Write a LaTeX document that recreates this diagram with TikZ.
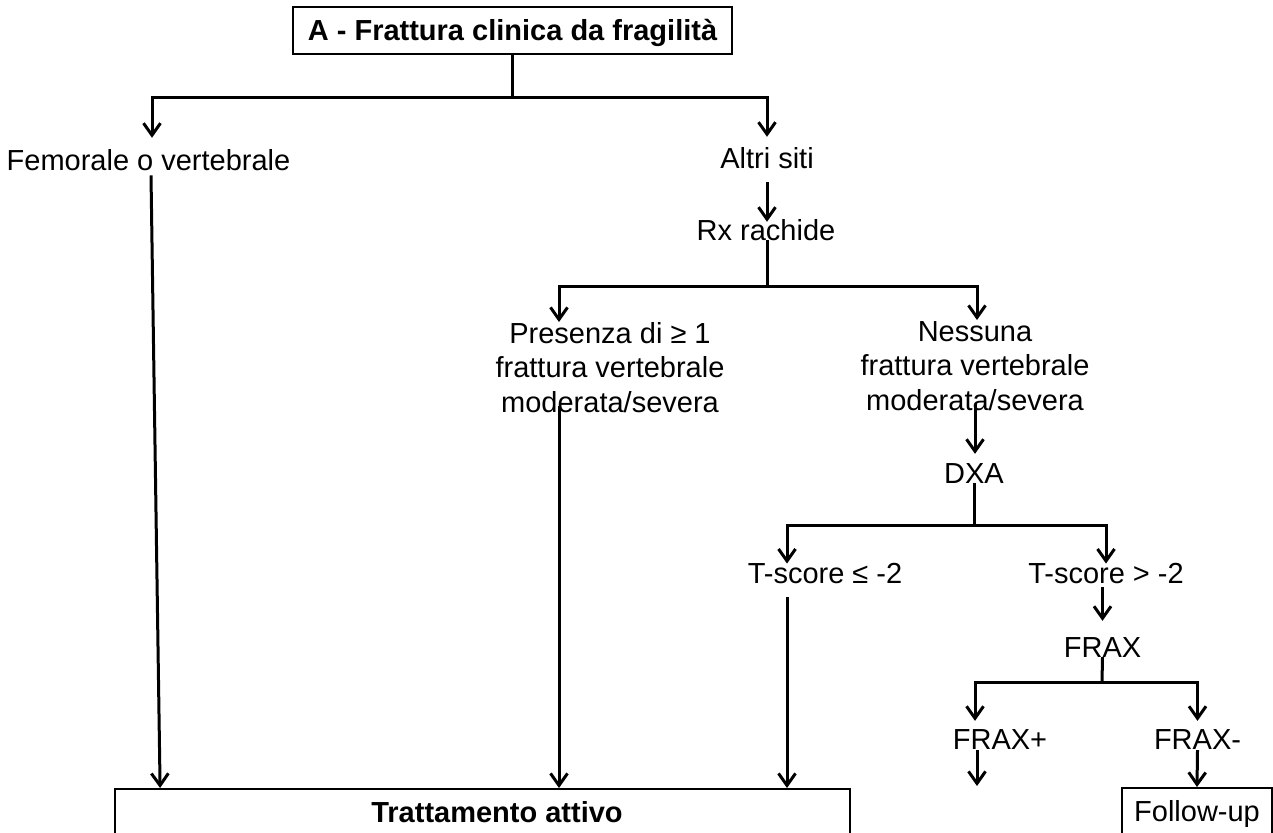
\documentclass[tikz,border=0pt]{standalone}
\usepackage{fontspec}
\setmainfont{Liberation Sans}
\usetikzlibrary{arrows.meta}
\begin{document}
\begin{tikzpicture}[x=1pt,y=-1pt,
  every node/.style={inner sep=0pt, font=\fontsize{29}{34.5}\selectfont},
  lbl/.style={anchor=base},
  multi/.style={anchor=north, align=center},
  boxed/.style={draw, line width=1.8pt, text height=21pt, text depth=0pt},
  line/.style={line width=3pt},
  arr/.style={line width=3pt, -{Straight Barb[length=12pt,width=17pt]}}]

  % canvas
  \fill[white] (0,0) rectangle (1273,832);
  \useasboundingbox (0,0) rectangle (1273,832);

  % nodes
  \node[boxed, minimum width=439pt, minimum height=47pt, font=\fontsize{29}{34.5}\selectfont\bfseries]
    (title) at (512.5,30.5) {A - Frattura clinica da fragilità};
  \node[lbl] (fem)   at (148.5,170) {Femorale o vertebrale};
  \node[lbl] (altri) at (767,168)   {Altri siti};
  \node[lbl] (rx)    at (766,240)   {Rx rachide};
  \node[multi] (pres) at (610,322)  {Presenza di ≥ 1\\frattura vertebrale\\moderata/severa};
  \node[multi] (ness) at (975,321)  {Nessuna\\frattura vertebrale\\moderata/severa};
  \node[lbl] (dxa)   at (974,483)   {DXA};
  \node[lbl] (tle)   at (825,583)   {T-score ≤ -2};
  \node[lbl] (tgt)   at (1106,583)  {T-score > -2};
  \node[lbl] (frax)  at (1102.5,657) {FRAX};
  \node[lbl] (fraxp) at (1000,749)  {FRAX+};
  \node[lbl] (fraxm) at (1197.5,749) {FRAX-};
  \node[boxed, anchor=north, minimum width=735pt, minimum height=47pt,
        font=\fontsize{29}{34.5}\selectfont\bfseries]
    (tratt) at (482.5,788) {\hspace*{29pt}Trattamento attivo};
  \node[boxed, anchor=north, minimum width=150pt, minimum height=47pt]
    (follow) at (1197,787) {Follow-up};

  % fork points
  \coordinate (j1) at (512,98);
  \coordinate (j2) at (767,286);
  \coordinate (j3) at (974,525);
  \coordinate (j4) at (1102,682);
  \coordinate (fp) at (977,786);

  % top split
  \draw[line] (title.south) -- (title.south |- j1);
  \draw[arr] (j1) -| ([xshift=3.5pt,yshift=11pt]fem.north);
  \draw[arr] (j1) -| ([yshift=10pt]altri.north);

  % femorale o vertebrale -> trattamento
  \draw[arr] ([xshift=2.5pt,yshift=-5pt]fem.south) -- ([xshift=46pt]tratt.north west);

  % altri siti -> rx rachide
  \draw[arr] ([yshift=-14pt]altri.south) -- ([yshift=-3pt]altri.south |- rx.north);
  \draw[line] (rx.south -| j2) -- (j2);
  \draw[arr] (j2) -| ([xshift=-51pt]pres.north);
  \draw[arr] (j2) -| ([xshift=2pt,yshift=1pt]ness.north);

  % presenza -> trattamento
  \draw[arr] ([xshift=-51pt,yshift=7pt]pres.south) -- ([xshift=-51pt]pres.south |- tratt.north);

  % nessuna -> DXA
  \draw[arr] ([yshift=7pt]ness.south) -- ([yshift=9pt]ness.south |- dxa.north);
  \draw[line] (dxa.south) -- (j3);
  \draw[arr] (j3) -| ([xshift=-38pt,yshift=-1pt]tle.north);
  \draw[arr] (j3) -| ([yshift=-1pt]tgt.north);

  % T-score <= -2 -> trattamento
  \draw[arr] ([xshift=-38pt,yshift=-14pt]tle.south) -- ([xshift=-38pt]tle.south |- tratt.north);

  % T-score > -2 -> FRAX
  \draw[arr] ([yshift=-4pt]tgt.south -| frax.north) -- ([yshift=16pt]frax.north);
  \draw[line] (frax.south) -- (j4);
  \draw[arr] (j4) -| ([xshift=-25pt,yshift=8pt]fraxp.north);
  \draw[arr] (j4) -| ([yshift=8pt]fraxm.north);

  % FRAX outcomes
  \draw[arr] ([xshift=-23pt,yshift=-1pt]fraxp.south) -- (fp);
  \draw[arr] ([yshift=-1pt]fraxm.south) -- (follow.north);
\end{tikzpicture}
\end{document}
